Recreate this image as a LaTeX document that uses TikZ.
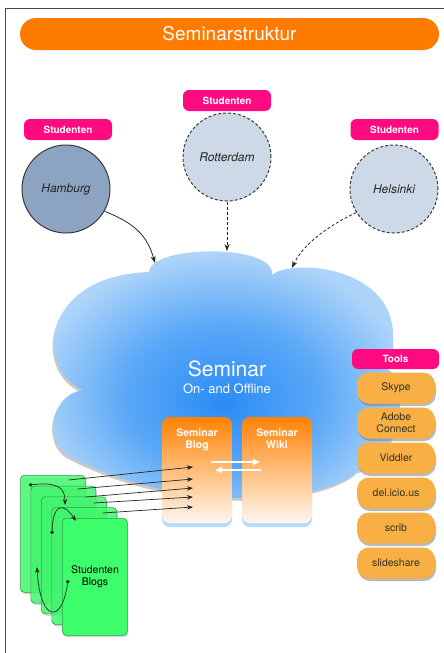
\documentclass[tikz,border=0pt]{standalone}
\usepackage{fontspec}
\setmainfont{TeX Gyre Heros}
\usetikzlibrary{arrows.meta,shadows}
\definecolor{framecol}{HTML}{4A4A4A}
\definecolor{titleorange}{HTML}{FF7B00}
\definecolor{studpink}{HTML}{FF0A80}
\definecolor{hambfill}{HTML}{8CA3C1}
\definecolor{cityfill}{HTML}{CDD9E7}
\definecolor{citydraw}{HTML}{3A3A3A}
\definecolor{cloudin}{HTML}{2A8BF6}
\definecolor{cloudmid}{HTML}{5AA8F7}
\definecolor{cloudout}{HTML}{ADD4F9}
\definecolor{semorange}{HTML}{FF8204}
\definecolor{semmid}{HTML}{FFA449}
\definecolor{toolfill}{HTML}{F8B044}
\definecolor{tooltext}{HTML}{33331F}
\definecolor{pagegreen}{HTML}{3DFF6C}
\definecolor{pageborder}{HTML}{2C9C45}
\pgfdeclareradialshading{cloudglow}{\pgfpoint{0bp}{-4bp}}{color(0bp)=(cloudin);
  color(13bp)=(cloudmid); color(25bp)=(cloudout); color(50bp)=(cloudout)}
\tikzset{
  titlebar/.style={fill=titleorange, rounded corners=16pt, minimum width=419pt,
    minimum height=32pt, text=white, font=\fontsize{19}{22}\selectfont},
  studtag/.style={fill=studpink, rounded corners=6pt, minimum width=88pt,
    minimum height=21pt, inner sep=0pt, text=white, font=\fontsize{10}{12}\selectfont\bfseries},
  city/.style={circle, minimum size=88pt, inner sep=0pt, draw=citydraw, line width=1pt,
    fill=cityfill, text=black!85, font=\fontsize{12}{14}\selectfont\itshape},
  dashcity/.style={city, dash pattern=on 3pt off 2pt},
  visit/.style={-{Stealth[length=7pt,width=5pt]}, line width=0.8pt, black!85},
  dashvisit/.style={visit, dash pattern=on 3pt off 2pt},
  cloudsurface/.style={shading=cloudglow,
    drop shadow={shadow xshift=-1.5pt, shadow yshift=-2.5pt, opacity=.3, fill=black!70}},
  sembox/.style={rounded corners=8pt, minimum width=70pt, minimum height=106pt,
    top color=semorange, middle color=semmid, bottom color=semorange!6!white,
    drop shadow={shadow xshift=0pt, shadow yshift=-4pt, opacity=.6, fill=cloudin!55!white}},
  semtext/.style={anchor=north, align=center, text=white,
    font=\fontsize{10.5}{12}\selectfont\bfseries},
  swap/.style={-{Triangle[length=7pt,width=6pt]}, line width=1.6pt, white},
  tooltag/.style={fill=studpink, rounded corners=6pt, minimum width=87pt,
    minimum height=20pt, inner sep=0pt, text=white, font=\fontsize{10}{12}\selectfont\bfseries},
  toolbox/.style={fill=toolfill, rounded corners=12pt, minimum width=78pt,
    minimum height=31pt, inner sep=1pt, align=center, text=tooltext,
    font=\fontsize{10.5}{11.5}\selectfont,
    drop shadow={shadow xshift=1pt, shadow yshift=-2.5pt, opacity=.55}},
  blogpage/.style={anchor=north west, rounded corners=4pt, minimum width=65pt,
    minimum height=117pt, inner sep=0pt, draw=pageborder, line width=0.6pt,
    fill=pagegreen, drop shadow={shadow xshift=1pt, shadow yshift=-2pt, opacity=.3}},
  backpage/.style={blogpage, fill opacity=.78},
  feed/.style={-{Stealth[length=6pt,width=4.5pt]}, line width=0.7pt, black!85},
  loop/.style={{Circle[length=3.5pt]}-{Stealth[length=6pt,width=4.5pt]}, line width=0.7pt, black!85}
}
\begin{document}
\begin{tikzpicture}[x=1pt,y=-1pt]
  \useasboundingbox (0,0) rectangle (444,653);
  \draw[framecol, line width=1pt] (5,653) -- (5,8) -- (444,8);
  \node[titlebar] (title) at (229.5,34) {Seminarstruktur};

  % students
  \node[studtag] (tagHam) at (68,129.5) {Studenten};
  \node[studtag] (tagRot) at (227,100.5) {Studenten};
  \node[studtag] (tagHel) at (394.5,129.5) {Studenten};
  \node[city, fill=hambfill] (hamburg) at (66,189) {Hamburg};
  \node[dashcity] (rotterdam) at (227,157) {Rotterdam};
  \node[dashcity] (helsinki) at (394,189) {Helsinki};

  % cloud
  \shade[cloudsurface] (150,272) .. controls (146,246) and (276,242) .. (272,275)
    .. controls (292,258) and (397,266) .. (393,340)
    .. controls (394,352) and (391,362) .. (386,368)
    .. controls (410,380) and (405,460) .. (358,471)
    .. controls (330,500) and (190,520) .. (67,455)
    .. controls (45,440) and (50,395) .. (83,390)
    .. controls (35,370) and (40,275) .. (150,272) -- cycle;
  \coordinate (inHam) at (155,263);
  \coordinate (inRot) at (227,251);
  \coordinate (inHel) at (292,268);
  \node[text=white, font=\fontsize{21}{24}\selectfont] (seminar) at (227,369) {Seminar};
  \node[text=white, font=\fontsize{13}{15}\selectfont] (online) at (227,389) {On- and Offline};

  \draw[visit] (hamburg.-30) .. controls +(30,12) and +(-8,-28) .. (inHam);
  \draw[dashvisit] (rotterdam.south) -- (inRot);
  \draw[dashvisit] (helsinki.212) .. controls +(-30,14) and +(10,-22) .. (inHel);

  % blog and wiki
  \node[sembox] (blog) at (197,470) {};
  \node[sembox] (wiki) at (277,470) {};
  \node[semtext] at ([yshift=-8pt]blog.north) {Seminar\\Blog};
  \node[semtext] at ([yshift=-8pt]wiki.north) {Seminar\\Wiki};
  \draw[swap] ([xshift=-21pt,yshift=8pt]blog.east) -- ([xshift=18pt,yshift=8pt]wiki.west);
  \draw[swap] ([xshift=19pt]wiki.west) -- ([xshift=-17pt]blog.east);

  % tools
  \node[tooltag] (tools) at (395.5,359) {Tools};
  \foreach \name/\txt [count=\k from 0] in {skype/Skype, adobe/{Adobe\\Connect},
      viddler/Viddler, delicious/del.icio.us, scrib/scrib, slideshare/slideshare}
    \node[toolbox] (\name) at (396,{388+35*\k}) {\txt};

  % student blogs
  \foreach \i in {1,...,4}
    \node[backpage] (pg\i) at ({20+10.5*(\i-1)},{475+10.75*(\i-1)}) {};
  \node[blogpage] (pg5) at (62,518) {};
  \node[align=center, font=\fontsize{10.5}{12}\selectfont] (blogs) at (95,577) {Studenten\\Blogs};

  \foreach \i/\sx/\sy/\ey in {1/-17/-5/3, 2/-18.5/-3.25/-9, 3/-21/-0.5/-18,
      4/-23.5/4.25/-27, 5/-25/5/-37}
    \draw[feed] ([xshift=\sx pt,yshift=\sy pt]pg\i.north east)
      -- ([xshift=-4pt,yshift=\ey pt]blog.center);

  \draw[loop] ([shift={(9,10)}]pg1.north west) .. controls +(28,-3) and +(0,-18) .. ([shift={(45,30)}]pg1.north west);
  \draw[loop] ([shift={(11,37.5)}]pg3.north west) .. controls +(1,-32) and +(-12,-18) .. ([shift={(35,24.5)}]pg3.north west);
  \draw[loop] ([shift={(6,62)}]pg5.north west) .. controls +(-6,45) and +(3,55) .. ([shift={(-25,49)}]pg5.north west);
\end{tikzpicture}
\end{document}
